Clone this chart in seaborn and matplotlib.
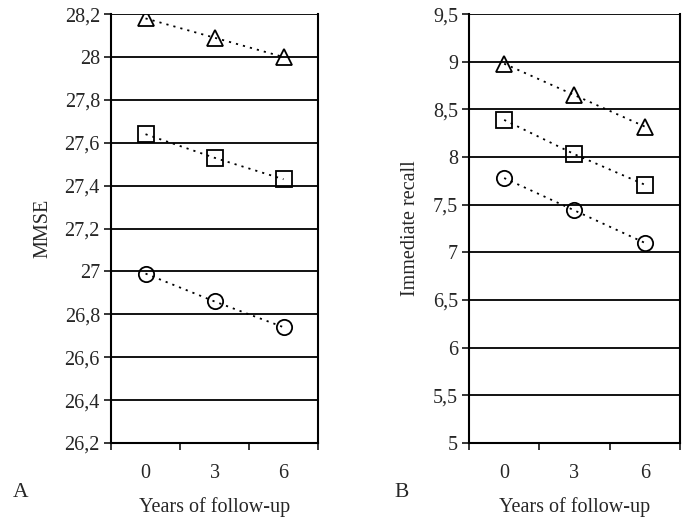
import matplotlib
matplotlib.use("Agg")
import matplotlib.pyplot as plt
import numpy as np
import pandas as pd
import seaborn as sns

# Data
years = ["0", "3", "6"]

mmse_triangle = [28.18, 28.09, 28.00]
mmse_square = [27.64, 27.53, 27.43]
mmse_circle = [26.99, 26.86, 26.74]

recall_triangle = [8.98, 8.65, 8.32]
recall_square = [8.39, 8.03, 7.71]
recall_circle = [7.78, 7.44, 7.10]

mmse_ticks = [26.2, 26.4, 26.6, 26.8, 27.0, 27.2, 27.4, 27.6, 27.8, 28.0, 28.2]
mmse_ticklabels = ["26,2", "26,4", "26,6", "26,8", "27", "27,2", "27,4", "27,6", "27,8", "28", "28,2"]
recall_ticks = [5, 5.5, 6, 6.5, 7, 7.5, 8, 8.5, 9, 9.5]
recall_ticklabels = ["5", "5,5", "6", "6,5", "7", "7,5", "8", "8,5", "9", "9,5"]

sns.set_style("ticks")
plt.rcParams['font.family'] = ['Liberation Serif', 'DejaVu Serif']

fig = plt.figure(figsize=(6.82, 5.23), dpi=100)
axA = fig.add_axes([0.1628, 0.153, 0.3035, 0.820])
axB = fig.add_axes([0.6877, 0.153, 0.3093, 0.820])

FS = 14.5


def draw_panel(ax, series, ticks, ticklabels, ylabel):
    for vals, m in series:
        df = pd.DataFrame({"year": years, "value": vals})
        sns.lineplot(data=df, x="year", y="value", ax=ax, color="black",
                     marker=m, markersize=11, markerfacecolor="none",
                     markeredgecolor="black", markeredgewidth=1.3,
                     linestyle=(0, (1.2, 2.8)), linewidth=1.3, zorder=3)
    ax.set_xlim(-0.5, 2.5)
    ax.set_ylim(ticks[0], ticks[-1])
    ax.set_yticks(ticks)
    ax.set_yticklabels(ticklabels, fontsize=FS)
    for t in ticks:
        ax.axhline(t, color="black", lw=1.3, zorder=1)
    ax.set_xticks(range(len(years)))
    ax.set_xticklabels(years, fontsize=FS)
    ax.set_xticks([-0.5, 0.5, 1.5, 2.5], minor=True)
    ax.tick_params(axis="x", which="major", length=0, pad=15)
    ax.tick_params(axis="x", which="minor", length=5, width=1.3, direction="out")
    ax.tick_params(axis="y", length=5, width=1.3, direction="out", pad=3)
    ax.spines["top"].set_visible(False)
    for s in ["left", "right", "bottom"]:
        ax.spines[s].set_visible(True)
        ax.spines[s].set_linewidth(1.5)
        ax.spines[s].set_color("black")
    ax.set_xlabel("Years of follow-up", fontsize=FS, labelpad=10)
    ax.set_ylabel(ylabel, fontsize=FS, labelpad=9)


draw_panel(axA, [(mmse_triangle, "^"), (mmse_square, "s"), (mmse_circle, "o")],
           mmse_ticks, mmse_ticklabels, "MMSE")
draw_panel(axB, [(recall_triangle, "^"), (recall_square, "s"), (recall_circle, "o")],
           recall_ticks, recall_ticklabels, "Immediate recall")

fig.text(13 / 682, 0.059, "A", fontsize=FS + 1, va="center", ha="left")
fig.text(394 / 682, 0.059, "B", fontsize=FS + 1, va="center", ha="left")

fig.savefig("out.png", dpi=100)
